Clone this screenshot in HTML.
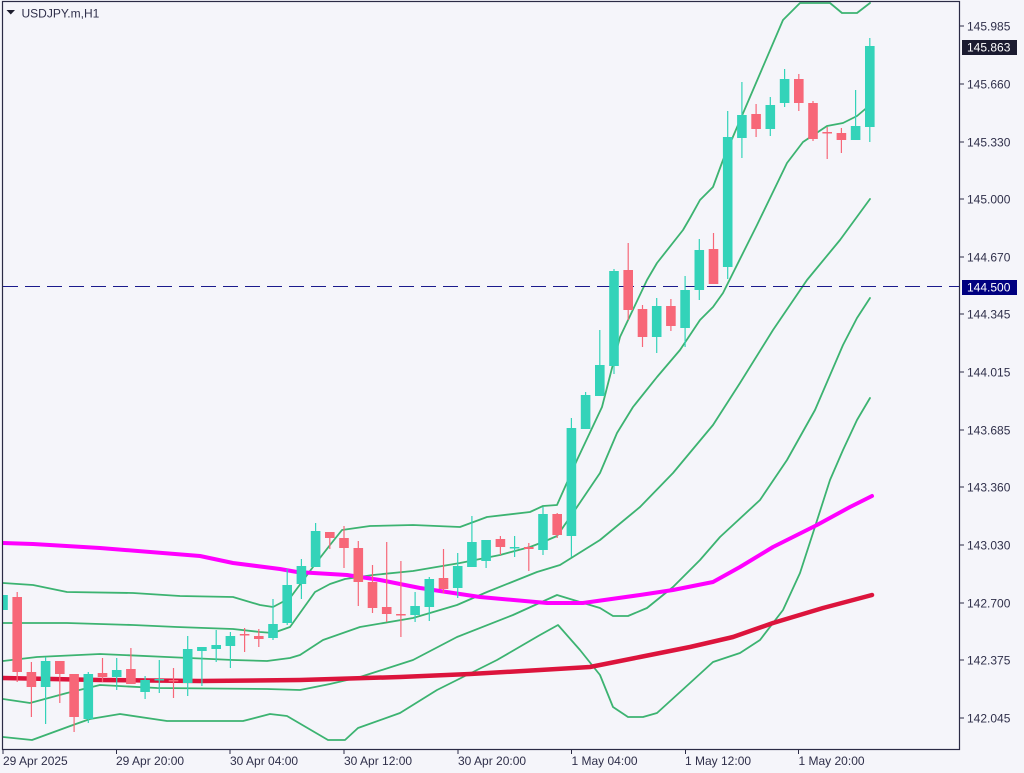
<!DOCTYPE html>
<html><head><meta charset="utf-8">
<style>
html,body{margin:0;padding:0;background:#f5f5fa;}
svg{display:block;}
text{font-family:"Liberation Sans",sans-serif;font-size:12px;fill:#2f2f4a;}
</style></head>
<body>
<svg width="1024" height="773" viewBox="0 0 1024 773" xmlns="http://www.w3.org/2000/svg">
<rect x="0" y="0" width="1024" height="773" fill="#f5f5fa"/>
<defs><clipPath id="pa"><rect x="3" y="2" width="956.5" height="747"/></clipPath></defs>
<g clip-path="url(#pa)" fill="none" stroke-linejoin="round" stroke-linecap="round">
<!-- Bollinger lines -->
<g stroke="#3cb371" stroke-width="1.8">
<polyline points="3,583 33,585 67,592 133,593 180,596 233,597 260,605 273,607 290,598 313,567 330,545 342,530 370,526 413,525 460,527 487,517 530,512 543,506 557,505 577,460 602,407 620,337 647,280 657,263 683,230 690,218 700,200 713,187 723,160 783,20 800,3 830,3 842,13 857,13 870,3"/>
<polyline points="3,623 67,623 133,625 177,627 233,629 260,632 273,633 290,627 300,613 315,592 330,584 345,579 373,575 413,571 460,563 500,555 530,547 543,542 557,536 577,507 600,473 617,433 633,407 657,377 680,350 700,320 713,307 723,293 757,225 787,163 803,142 827,126 843,123 857,116 870,105"/>
<polyline points="3,661 37,657 100,654 167,657 233,660 267,661 290,658 300,655 323,640 360,627 413,618 457,605 487,592 537,572 560,565 600,540 640,507 673,473 713,425 740,383 773,330 807,280 840,240 870,199"/>
<polyline points="3,699 30,703 67,693 100,685 157,688 267,689 300,690 330,684 360,677 413,660 457,637 513,615 557,595 580,602 600,608 613,616 628,616 647,608 673,587 700,560 720,537 760,500 787,460 815,410 843,345 857,318 870,298"/>
<polyline points="3,737 32,740 73,725 90,719 120,714 167,721 243,721 270,714 287,716 328,740 345,740 358,728 400,713 437,690 497,660 540,635 558,625 580,650 600,675 613,707 628,717 643,717 657,713 690,683 713,662 740,653 760,640 783,610 800,573 813,533 830,480 843,450 857,420 870,398"/>
</g>
<polyline stroke="#ff00ff" stroke-width="4" points="3,543 33,544 100,548 200,556 233,563 280,569 297,572 347,575 380,580 420,588 480,597 547,603 583,603 640,595 673,590 713,582 740,567 773,547 817,525 850,507 872,496"/>
<polyline stroke="#dc143c" stroke-width="4.5" points="3,678 100,680 200,681 300,680 400,677 470,674 540,670 590,667 640,657 690,647 733,637 773,623 823,608 872,595"/>
<line x1="3" y1="286.5" x2="960" y2="286.5" stroke="#1a1a8c" stroke-width="1" stroke-dasharray="15 7" stroke-linecap="butt"/>
</g>
<g clip-path="url(#pa)">
<!-- candles: wicks -->
<g stroke-width="1.2">
<line x1="3" y1="595" x2="3" y2="610" stroke="#33d3b9"/>
<line x1="17.2" y1="592" x2="17.2" y2="682" stroke="#f76778"/>
<line x1="31.4" y1="662" x2="31.4" y2="717" stroke="#f76778"/>
<line x1="45.6" y1="657" x2="45.6" y2="724" stroke="#33d3b9"/>
<line x1="59.8" y1="661" x2="59.8" y2="703" stroke="#f76778"/>
<line x1="74.1" y1="674" x2="74.1" y2="732" stroke="#f76778"/>
<line x1="88.3" y1="672" x2="88.3" y2="723" stroke="#33d3b9"/>
<line x1="102.5" y1="658" x2="102.5" y2="682" stroke="#f76778"/>
<line x1="116.7" y1="658" x2="116.7" y2="690" stroke="#33d3b9"/>
<line x1="130.9" y1="648" x2="130.9" y2="684" stroke="#f76778"/>
<line x1="145.1" y1="676" x2="145.1" y2="699" stroke="#33d3b9"/>
<line x1="159.3" y1="660" x2="159.3" y2="693" stroke="#33d3b9"/>
<line x1="173.5" y1="668" x2="173.5" y2="698" stroke="#f76778"/>
<line x1="187.7" y1="636" x2="187.7" y2="696" stroke="#33d3b9"/>
<line x1="201.9" y1="647" x2="201.9" y2="686" stroke="#33d3b9"/>
<line x1="216.2" y1="630" x2="216.2" y2="662" stroke="#33d3b9"/>
<line x1="230.4" y1="632" x2="230.4" y2="668" stroke="#33d3b9"/>
<line x1="244.6" y1="628" x2="244.6" y2="652" stroke="#f76778"/>
<line x1="258.8" y1="629" x2="258.8" y2="647" stroke="#f76778"/>
<line x1="273" y1="599" x2="273" y2="640" stroke="#33d3b9"/>
<line x1="287.2" y1="569" x2="287.2" y2="625" stroke="#33d3b9"/>
<line x1="301.4" y1="559" x2="301.4" y2="599" stroke="#33d3b9"/>
<line x1="315.6" y1="523" x2="315.6" y2="567" stroke="#33d3b9"/>
<line x1="329.8" y1="532" x2="329.8" y2="549" stroke="#f76778"/>
<line x1="344" y1="526" x2="344" y2="568" stroke="#f76778"/>
<line x1="358.3" y1="541" x2="358.3" y2="606" stroke="#f76778"/>
<line x1="372.5" y1="565" x2="372.5" y2="613" stroke="#f76778"/>
<line x1="386.7" y1="542" x2="386.7" y2="622" stroke="#f76778"/>
<line x1="400.9" y1="561" x2="400.9" y2="637" stroke="#f76778"/>
<line x1="415.1" y1="592" x2="415.1" y2="622" stroke="#33d3b9"/>
<line x1="429.3" y1="577" x2="429.3" y2="621" stroke="#33d3b9"/>
<line x1="443.5" y1="549" x2="443.5" y2="593" stroke="#f76778"/>
<line x1="457.7" y1="553" x2="457.7" y2="598" stroke="#33d3b9"/>
<line x1="471.9" y1="516" x2="471.9" y2="567" stroke="#33d3b9"/>
<line x1="486.1" y1="540" x2="486.1" y2="568" stroke="#33d3b9"/>
<line x1="500.4" y1="536" x2="500.4" y2="555" stroke="#f76778"/>
<line x1="514.6" y1="536" x2="514.6" y2="557" stroke="#33d3b9"/>
<line x1="528.8" y1="543" x2="528.8" y2="571" stroke="#f76778"/>
<line x1="543" y1="507" x2="543" y2="555" stroke="#33d3b9"/>
<line x1="557.2" y1="513" x2="557.2" y2="538" stroke="#f76778"/>
<line x1="571.4" y1="418" x2="571.4" y2="557" stroke="#33d3b9"/>
<line x1="585.6" y1="392" x2="585.6" y2="429" stroke="#33d3b9"/>
<line x1="599.8" y1="330" x2="599.8" y2="396" stroke="#33d3b9"/>
<line x1="614" y1="269" x2="614" y2="374" stroke="#33d3b9"/>
<line x1="628.2" y1="243" x2="628.2" y2="320" stroke="#f76778"/>
<line x1="642.5" y1="305" x2="642.5" y2="347" stroke="#f76778"/>
<line x1="656.7" y1="298" x2="656.7" y2="353" stroke="#33d3b9"/>
<line x1="670.9" y1="299" x2="670.9" y2="331" stroke="#f76778"/>
<line x1="685.1" y1="276" x2="685.1" y2="347" stroke="#33d3b9"/>
<line x1="699.3" y1="239" x2="699.3" y2="300" stroke="#33d3b9"/>
<line x1="713.5" y1="233" x2="713.5" y2="284" stroke="#f76778"/>
<line x1="727.7" y1="111" x2="727.7" y2="279" stroke="#33d3b9"/>
<line x1="741.9" y1="82" x2="741.9" y2="158" stroke="#33d3b9"/>
<line x1="756.1" y1="104" x2="756.1" y2="137" stroke="#f76778"/>
<line x1="770.3" y1="97" x2="770.3" y2="136" stroke="#33d3b9"/>
<line x1="784.6" y1="69" x2="784.6" y2="107" stroke="#33d3b9"/>
<line x1="798.8" y1="74" x2="798.8" y2="111" stroke="#f76778"/>
<line x1="813" y1="101" x2="813" y2="141" stroke="#f76778"/>
<line x1="827.2" y1="127" x2="827.2" y2="159" stroke="#f76778"/>
<line x1="841.4" y1="128" x2="841.4" y2="153" stroke="#f76778"/>
<line x1="855.6" y1="90" x2="855.6" y2="140" stroke="#33d3b9"/>
<line x1="869.8" y1="38" x2="869.8" y2="142" stroke="#33d3b9"/>
</g>
<!-- candles: bodies -->
<rect x="-1.8" y="595" width="9.6" height="15" fill="#33d3b9"/>
<rect x="12.4" y="597" width="9.6" height="75" fill="#f76778"/>
<rect x="26.6" y="672" width="9.6" height="15" fill="#f76778"/>
<rect x="40.8" y="661" width="9.6" height="26" fill="#33d3b9"/>
<rect x="55" y="661" width="9.6" height="13" fill="#f76778"/>
<rect x="69.3" y="674" width="9.6" height="43" fill="#f76778"/>
<rect x="83.5" y="674" width="9.6" height="45" fill="#33d3b9"/>
<rect x="97.7" y="673" width="9.6" height="4" fill="#f76778"/>
<rect x="111.9" y="670" width="9.6" height="7" fill="#33d3b9"/>
<rect x="126.1" y="669" width="9.6" height="15" fill="#f76778"/>
<rect x="140.3" y="680" width="9.6" height="12" fill="#33d3b9"/>
<rect x="154.5" y="679" width="9.6" height="1.5" fill="#33d3b9"/>
<rect x="168.7" y="680" width="9.6" height="1.5" fill="#f76778"/>
<rect x="182.9" y="649" width="9.6" height="34" fill="#33d3b9"/>
<rect x="197.1" y="647" width="9.6" height="4" fill="#33d3b9"/>
<rect x="211.4" y="645" width="9.6" height="4" fill="#33d3b9"/>
<rect x="225.6" y="636" width="9.6" height="10" fill="#33d3b9"/>
<rect x="239.8" y="634" width="9.6" height="1.5" fill="#f76778"/>
<rect x="254" y="636" width="9.6" height="3" fill="#f76778"/>
<rect x="268.2" y="624" width="9.6" height="14" fill="#33d3b9"/>
<rect x="282.4" y="585" width="9.6" height="38" fill="#33d3b9"/>
<rect x="296.6" y="566" width="9.6" height="18" fill="#33d3b9"/>
<rect x="310.8" y="531" width="9.6" height="36" fill="#33d3b9"/>
<rect x="325" y="532" width="9.6" height="6" fill="#f76778"/>
<rect x="339.2" y="538" width="9.6" height="10" fill="#f76778"/>
<rect x="353.5" y="548" width="9.6" height="34" fill="#f76778"/>
<rect x="367.7" y="582" width="9.6" height="26" fill="#f76778"/>
<rect x="381.9" y="607" width="9.6" height="7" fill="#f76778"/>
<rect x="396.1" y="614" width="9.6" height="1.5" fill="#f76778"/>
<rect x="410.3" y="606" width="9.6" height="9" fill="#33d3b9"/>
<rect x="424.5" y="579" width="9.6" height="28" fill="#33d3b9"/>
<rect x="438.7" y="578" width="9.6" height="11" fill="#f76778"/>
<rect x="452.9" y="566" width="9.6" height="22" fill="#33d3b9"/>
<rect x="467.1" y="542" width="9.6" height="25" fill="#33d3b9"/>
<rect x="481.3" y="540" width="9.6" height="21" fill="#33d3b9"/>
<rect x="495.6" y="539" width="9.6" height="8" fill="#f76778"/>
<rect x="509.8" y="547" width="9.6" height="1.5" fill="#33d3b9"/>
<rect x="524" y="547" width="9.6" height="2" fill="#f76778"/>
<rect x="538.2" y="514" width="9.6" height="36" fill="#33d3b9"/>
<rect x="552.4" y="514" width="9.6" height="21" fill="#f76778"/>
<rect x="566.6" y="428" width="9.6" height="108" fill="#33d3b9"/>
<rect x="580.8" y="395" width="9.6" height="34" fill="#33d3b9"/>
<rect x="595" y="365" width="9.6" height="31" fill="#33d3b9"/>
<rect x="609.2" y="271" width="9.6" height="95" fill="#33d3b9"/>
<rect x="623.4" y="270" width="9.6" height="40" fill="#f76778"/>
<rect x="637.7" y="309" width="9.6" height="28" fill="#f76778"/>
<rect x="651.9" y="306" width="9.6" height="31" fill="#33d3b9"/>
<rect x="666.1" y="306" width="9.6" height="20" fill="#f76778"/>
<rect x="680.3" y="290" width="9.6" height="38" fill="#33d3b9"/>
<rect x="694.5" y="250" width="9.6" height="40" fill="#33d3b9"/>
<rect x="708.7" y="249" width="9.6" height="35" fill="#f76778"/>
<rect x="722.9" y="137" width="9.6" height="130" fill="#33d3b9"/>
<rect x="737.1" y="115" width="9.6" height="23" fill="#33d3b9"/>
<rect x="751.3" y="114" width="9.6" height="15" fill="#f76778"/>
<rect x="765.5" y="105" width="9.6" height="24" fill="#33d3b9"/>
<rect x="779.8" y="79" width="9.6" height="24" fill="#33d3b9"/>
<rect x="794" y="79" width="9.6" height="24" fill="#f76778"/>
<rect x="808.2" y="103" width="9.6" height="36" fill="#f76778"/>
<rect x="822.4" y="132" width="9.6" height="1.5" fill="#f76778"/>
<rect x="836.6" y="133" width="9.6" height="7" fill="#f76778"/>
<rect x="850.8" y="126" width="9.6" height="14" fill="#33d3b9"/>
<rect x="865" y="46" width="9.6" height="81" fill="#33d3b9"/>
</g>
<!-- frame -->
<rect x="2.5" y="1.5" width="957" height="748" fill="none" stroke="#2b2b45" stroke-width="1.2"/>
<!-- header -->
<polygon points="6.5,10 15,10 10.75,14.5" fill="#1e1e2e"/>
<text x="21.5" y="17.5">USDJPY.m,H1</text>
<!-- y ticks -->
<g stroke="#2b2b45" stroke-width="1">
<line x1="960" y1="26" x2="964" y2="26"/>
<line x1="960" y1="84" x2="964" y2="84"/>
<line x1="960" y1="142" x2="964" y2="142"/>
<line x1="960" y1="199" x2="964" y2="199"/>
<line x1="960" y1="257" x2="964" y2="257"/>
<line x1="960" y1="314" x2="964" y2="314"/>
<line x1="960" y1="372" x2="964" y2="372"/>
<line x1="960" y1="430" x2="964" y2="430"/>
<line x1="960" y1="487" x2="964" y2="487"/>
<line x1="960" y1="545" x2="964" y2="545"/>
<line x1="960" y1="603" x2="964" y2="603"/>
<line x1="960" y1="660" x2="964" y2="660"/>
<line x1="960" y1="718" x2="964" y2="718"/>
</g>
<text x="967" y="30.5">145.985</text>
<text x="967" y="88.5">145.660</text>
<text x="967" y="146.5">145.330</text>
<text x="967" y="203.5">145.000</text>
<text x="967" y="261.5">144.670</text>
<text x="967" y="318.5">144.345</text>
<text x="967" y="376.5">144.015</text>
<text x="967" y="434.5">143.685</text>
<text x="967" y="491.5">143.360</text>
<text x="967" y="549.5">143.030</text>
<text x="967" y="607.5">142.700</text>
<text x="967" y="664.5">142.375</text>
<text x="967" y="722.5">142.045</text>
<!-- price labels -->
<rect x="962" y="40" width="55" height="15" fill="#1b1b30"/>
<text x="967" y="51.5" style="fill:#ffffff">145.863</text>
<rect x="962" y="280" width="55" height="15" fill="#000080"/>
<text x="967" y="291.5" style="fill:#ffffff">144.500</text>
<!-- x ticks -->
<g stroke="#2b2b45" stroke-width="1">
<line x1="3" y1="750" x2="3" y2="754"/>
<line x1="116.5" y1="750" x2="116.5" y2="754"/>
<line x1="230" y1="750" x2="230" y2="754"/>
<line x1="344" y1="750" x2="344" y2="754"/>
<line x1="458" y1="750" x2="458" y2="754"/>
<line x1="571.5" y1="750" x2="571.5" y2="754"/>
<line x1="685.5" y1="750" x2="685.5" y2="754"/>
<line x1="798.5" y1="750" x2="798.5" y2="754"/>
</g>
<text x="3" y="765">29 Apr 2025</text>
<text x="116" y="765">29 Apr 20:00</text>
<text x="230" y="765">30 Apr 04:00</text>
<text x="344" y="765">30 Apr 12:00</text>
<text x="458" y="765">30 Apr 20:00</text>
<text x="571.5" y="765">1 May 04:00</text>
<text x="685" y="765">1 May 12:00</text>
<text x="798.5" y="765">1 May 20:00</text>
</svg>
</body></html>
